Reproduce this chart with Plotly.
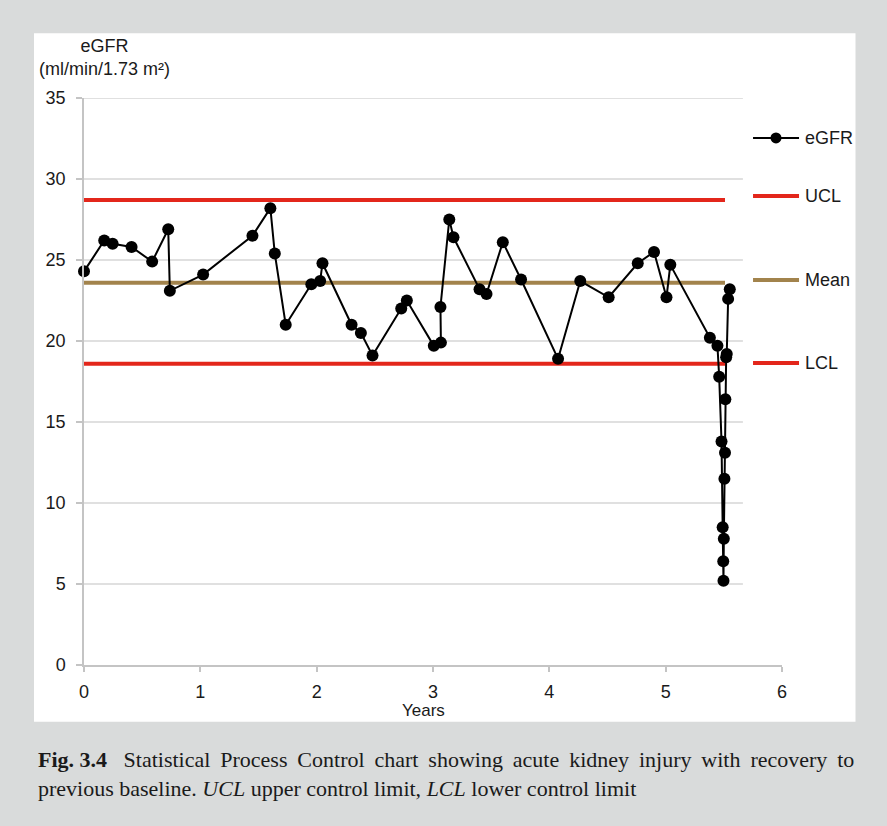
import plotly.graph_objects as go

# ---- data ----
years = [0.0, 0.174, 0.246, 0.409, 0.586, 0.724, 0.738, 1.024, 1.448, 1.602, 1.64, 1.734,
         1.954, 2.03, 2.05, 2.30, 2.38, 2.48, 2.727, 2.775, 3.007, 3.068, 3.064, 3.14, 3.176,
         3.40, 3.46, 3.60, 3.757, 4.075, 4.266, 4.51, 4.76, 4.90, 5.007, 5.04,
         5.38, 5.445, 5.46, 5.48, 5.49, 5.495, 5.497, 5.50, 5.505, 5.51, 5.513, 5.52, 5.525,
         5.537, 5.551]
egfr = [24.3, 26.2, 26.0, 25.8, 24.9, 26.9, 23.1, 24.1, 26.5, 28.2, 25.4, 21.0,
        23.5, 23.7, 24.8, 21.0, 20.5, 19.1, 22.0, 22.5, 19.7, 19.9, 22.1, 27.5, 26.4,
        23.2, 22.9, 26.1, 23.8, 18.9, 23.7, 22.7, 24.8, 25.5, 22.7, 24.7,
        20.2, 19.7, 17.8, 13.8, 8.5, 6.4, 5.2, 7.8, 11.5, 13.1, 16.4, 19.0, 19.2,
        22.6, 23.2]

control_x = [0.0, 5.51]
ucl = 28.7
mean = 23.6
lcl = 18.6

y_ticks = [0, 5, 10, 15, 20, 25, 30, 35]
x_ticks = [0, 1, 2, 3, 4, 5, 6]

legend_names = ["eGFR", "UCL", "Mean", "LCL"]

caption_line1 = ["<b>Fig. 3.4</b>", "Statistical", "Process", "Control", "chart", "showing", "acute",
                 "kidney", "injury", "with", "recovery", "to"]
caption_line2 = "previous baseline. <i>UCL</i> upper control limit, <i>LCL</i> lower control limit"

# ---- styles ----
BG = "#d9dbdb"
RED = "#e3261b"
BROWN = "#a2834c"
GRID = "#d6d6d6"
AXIS = "#c4c4c4"
TXT = "#1a1a1a"
SANS = "Liberation Sans, Arial, sans-serif"
SERIF = "Liberation Serif, Times New Roman, serif"

fig = go.Figure()

for val, col in [(ucl, RED), (mean, BROWN), (lcl, RED)]:
    fig.add_trace(go.Scatter(x=control_x, y=[val, val], mode="lines",
                             line=dict(color=col, width=4), showlegend=False,
                             hoverinfo="skip", cliponaxis=False))

fig.add_trace(go.Scatter(x=years, y=egfr, mode="lines+markers",
                         line=dict(color="black", width=2),
                         marker=dict(color="black", size=12),
                         showlegend=False, cliponaxis=False))

shapes = []
# white panel
shapes.append(dict(type="rect", xref="paper", yref="paper", x0=-0.0716, x1=1.1053,
                   y0=-0.100, y1=1.114, fillcolor="white", line=dict(width=0), layer="below"))
# horizontal gridlines (stop short of the right edge as in reference)
for t in y_ticks[1:]:
    shapes.append(dict(type="line", xref="paper", yref="y", x0=0, x1=0.944, y0=t, y1=t,
                       line=dict(color=GRID, width=1.6), layer="below"))

# custom legend
leg_y = {"eGFR": 0.9295, "UCL": 0.8272, "Mean": 0.679, "LCL": 0.5326}
leg_col = {"eGFR": "black", "UCL": RED, "Mean": BROWN, "LCL": RED}
lx0, lx1, lxm, ltx = 0.9585, 1.0244, 0.9914, 1.0300
annotations = []
for name in legend_names:
    yy = leg_y[name]
    w = 2 if name == "eGFR" else 4
    shapes.append(dict(type="line", xref="paper", yref="paper", x0=lx0, x1=lx1, y0=yy, y1=yy,
                       line=dict(color=leg_col[name], width=w)))
    if name == "eGFR":
        shapes.append(dict(type="circle", xref="paper", yref="paper",
                           x0=lxm - 0.0079, x1=lxm + 0.0079, y0=yy - 0.0097, y1=yy + 0.0097,
                           fillcolor="black", line=dict(color="black", width=0)))
    annotations.append(dict(text=name, xref="paper", yref="paper", x=ltx, y=yy,
                            xanchor="left", yanchor="middle", showarrow=False,
                            font=dict(family=SANS, size=18, color=TXT)))

# axis titles
annotations.append(dict(text="eGFR<br>(ml/min/1.73 m²)", xref="paper", yref="paper",
                        x=0.030, y=1.0723, xanchor="center", yanchor="middle", align="center",
                        showarrow=False, font=dict(family=SANS, size=18, color=TXT)))
annotations.append(dict(text="Years", xref="paper", yref="paper", x=0.486, y=-0.0794,
                        xanchor="center", yanchor="middle", showarrow=False,
                        font=dict(family=SANS, size=17, color=TXT)))
# caption (first line justified by widening the gaps)
GAP = " \u2009"
line1 = "<b>Fig.\u00a03.4</b>\u00a0\u00a0\u00a0" + GAP.join(caption_line1[1:])
annotations.append(dict(
    text=line1 + "<br>" + caption_line2,
    xref="paper", yref="paper", x=-0.0688, y=-0.1914, xanchor="left", yanchor="middle",
    align="left", showarrow=False, font=dict(family=SERIF, size=22, color=TXT)))

fig.update_layout(
    width=887, height=826,
    margin=dict(l=84, r=105, t=98, b=161),
    paper_bgcolor=BG, plot_bgcolor="white",
    shapes=shapes, annotations=annotations,
    showlegend=False,
    xaxis=dict(range=[0, 6], tickvals=x_ticks, ticktext=[str(v) for v in x_ticks],
               showgrid=False, zeroline=False, showline=True, linecolor=AXIS, linewidth=1.5,
               ticks="outside", ticklen=5, tickcolor=AXIS, tickwidth=1.5,
               ticklabelstandoff=5,
               tickfont=dict(family=SANS, size=18, color=TXT)),
    yaxis=dict(range=[0, 35], tickvals=y_ticks, ticktext=[str(v) for v in y_ticks],
               showgrid=False, zeroline=False, showline=True, linecolor=AXIS, linewidth=1.5,
               ticks="outside", ticklen=6, tickcolor=AXIS, tickwidth=1.5,
               ticklabelstandoff=7,
               tickfont=dict(family=SANS, size=18, color=TXT)),
)

fig.write_html("out.html")
